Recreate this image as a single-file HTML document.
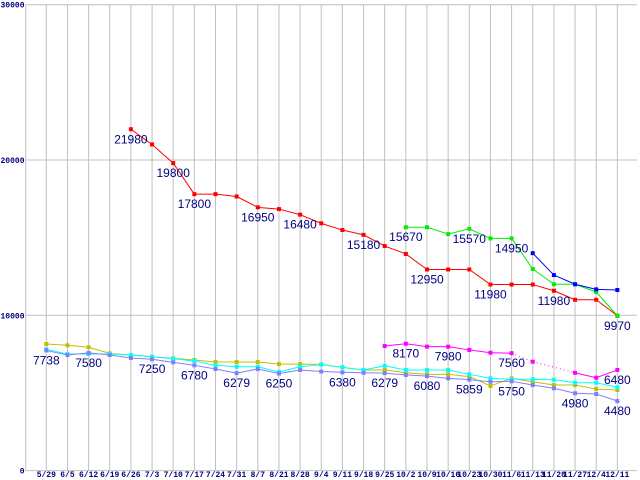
<!DOCTYPE html>
<html><head><meta charset="utf-8"><style>
html,body{margin:0;padding:0;background:#fff;}
svg{display:block;}
</style></head><body>
<svg id="chart" width="640" height="480" xmlns="http://www.w3.org/2000/svg"></svg>
<script>
const categories=["5/29","6/5","6/12","6/19","6/26","7/3","7/10","7/17","7/24","7/31","8/7","8/21","8/28","9/4","9/11","9/18","9/25","10/2","10/9","10/16","10/23","10/30","11/6","11/13","11/20","11/27","12/4","12/11"];
const yTicks=[0,10000,20000,30000];
const N=null;
const redValues=[N,N,N,N,21980,21000,19800,17800,17800,17650,16950,16840,16480,15920,15490,15180,14460,13950,12950,12950,12950,11980,11980,11980,11580,11000,11000,9970];
const greenValues=[N,N,N,N,N,N,N,N,N,N,N,N,N,N,N,N,N,15670,15670,15230,15570,14950,14950,12980,12000,12000,11500,9970];
const blueValues=[N,N,N,N,N,N,N,N,N,N,N,N,N,N,N,N,N,N,N,N,N,N,N,14000,12590,12000,11670,11630];
const oliveValues=[8150,8070,7940,7550,7440,7330,7230,7120,6990,6990,6990,6860,6860,6840,6650,6480,6480,6300,6200,6200,6050,5450,5940,5720,5510,5510,5250,5190];
const cyanValues=[7810,7510,7510,7510,7440,7330,7200,7060,6780,6690,6690,6350,6690,6820,6650,6480,6750,6480,6480,6480,6200,5940,5880,5880,5850,5660,5660,5360];
const purpleValues=[7738,7440,7580,7440,7250,7170,6970,6780,6540,6279,6540,6250,6480,6380,6330,6300,6279,6160,6080,5940,5859,5720,5750,5510,5300,4980,4930,4480];
const magentaValues=[N,N,N,N,N,N,N,N,N,N,N,N,N,N,N,N,8020,8170,7980,7980,7770,7590,7560,7010,N,6300,5980,6480];
const labelSeries=["red","red","red","red","red","red","red","red","red","red","green","green","green","purple","purple","purple","purple","purple","purple","purple","purple","purple","purple","purple","purple","purple","magenta","magenta","magenta","magenta"];
const labelIndex=[4,6,7,10,12,15,18,21,24,27,17,20,22,0,2,5,7,9,11,14,16,18,20,22,25,27,17,19,22,27];
const labelText=["21980","19800","17800","16950","16480","15180","12950","11980","11980","9970","15670","15570","14950","7738","7580","7250","6780","6279","6250","6380","6279","6080","5859","5750","4980","4480","8170","7980","7560","6480"];

const svg=document.getElementById('chart');
const NS='http://www.w3.org/2000/svg';
const x0=46.3,dx=21.15,yZero=470.6,yScale=155.3/10000;
function xPos(i){return x0+dx*i;}
function yPos(v){return yZero-v*yScale;}
function mk(tag,attrs){const e=document.createElementNS(NS,tag);for(const k in attrs)e.setAttribute(k,attrs[k]);svg.appendChild(e);return e;}

for(let i=0;i<categories.length;i++){
  const l=mk('line',{x1:xPos(i),x2:xPos(i),y1:yPos(30000),y2:yPos(0),stroke:'#c0c0c0','stroke-width':1});
  
  
  const t=mk('text',{x:xPos(i),y:477,'text-anchor':'middle','font-family':'Liberation Mono, monospace','font-size':'8','font-weight':'bold','fill':'#000080'});
  t.textContent=categories[i];
  
  
}
const ax=mk('line',{x1:25.7,x2:25.7,y1:yPos(30000),y2:yPos(0),stroke:'#c0c0c0','stroke-width':1});


for(const v of yTicks){
  const l=mk('line',{x1:25.7,x2:637,y1:yPos(v),y2:yPos(v),stroke:'#c0c0c0','stroke-width':1});
  
  
  const t=mk('text',{x:24.5,y:yPos(v)+3,'text-anchor':'end','font-family':'Liberation Mono, monospace','font-size':'8','font-weight':'bold','fill':'#000080'});
  t.textContent=String(v);
  
  
}

const seriesList=[
  ['red',redValues,'#ff0000'],
  ['green',greenValues,'#00ee00'],
  ['blue',blueValues,'#0000ff'],
  ['olive',oliveValues,'#c0c000'],
  ['cyan',cyanValues,'#00ffff'],
  ['purple',purpleValues,'#8080ff'],
  ['magenta',magentaValues,'#ff00ff']
];
const seriesMap={};
for(const [name,vals,color] of seriesList){
  seriesMap[name]=vals;
  let prev=-1;
  for(let i=0;i<vals.length;i++){
    if(vals[i]===null)continue;
    if(prev>=0){
      const dotted=(i-prev>1)||(name==='magenta'&&i===23);
      const l=mk('line',{x1:xPos(prev),y1:yPos(vals[prev]),x2:xPos(i),y2:yPos(vals[i]),stroke:color,'stroke-width':1});
      if(dotted)l.setAttribute('stroke-dasharray','1,3');
      
      
    }
    prev=i;
  }
  for(let i=0;i<vals.length;i++){
    if(vals[i]===null)continue;
    const r=mk('rect',{x:xPos(i)-2,y:yPos(vals[i])-2,width:4,height:4,fill:color});
    
    
  }
}
for(let k=0;k<labelText.length;k++){
  const vals=seriesMap[labelSeries[k]];
  const i=labelIndex[k];
  const v=vals[i];
  const t=mk('text',{x:xPos(i),y:yPos(v)+14,'text-anchor':'middle','font-family':'Liberation Sans, sans-serif','font-size':'12','fill':'#000080'});
  t.textContent=labelText[k];
  
  
}
</script>
</body></html>
